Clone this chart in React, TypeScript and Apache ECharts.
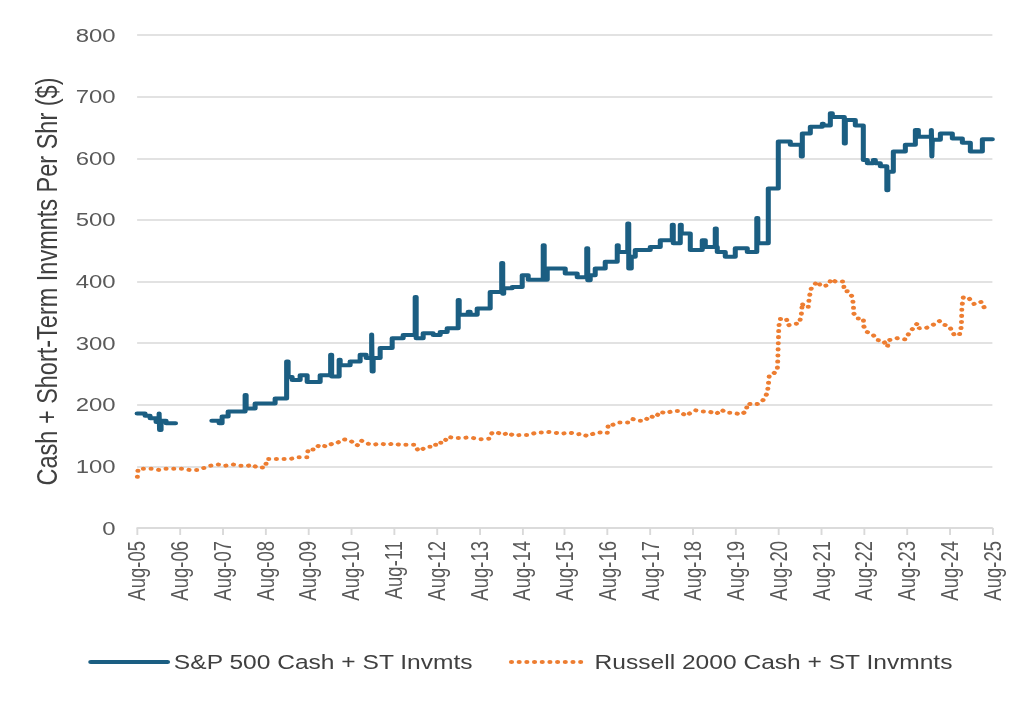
import React, { useEffect, useRef } from 'react';
import * as echarts from 'echarts';

// X axis: years elapsed since Aug-2005 (one tick per year)
const xTickLabels = [
  'Aug-05', 'Aug-06', 'Aug-07', 'Aug-08', 'Aug-09', 'Aug-10', 'Aug-11',
  'Aug-12', 'Aug-13', 'Aug-14', 'Aug-15', 'Aug-16', 'Aug-17', 'Aug-18',
  'Aug-19', 'Aug-20', 'Aug-21', 'Aug-22', 'Aug-23', 'Aug-24', 'Aug-25',
];

const seriesNames = ['S&P 500 Cash + ST Invmts', 'Russell 2000 Cash + ST Invmnts'];

// S&P 500 cash + short-term investments per share ($), step series (null = gap)
const spxT = [
  0.000, 0.187, 0.304, 0.444, 0.515, 0.526, 0.561, 0.678, 0.772, 0.900,
  1.747, 1.918, 1.988, 2.129, 2.526, 2.550, 2.760, 3.228, 3.497, 3.532,
  3.626, 3.813, 3.977, 4.281, 4.526, 4.550, 4.725, 4.749, 4.982, 5.216,
  5.357, 5.485, 5.497, 5.520, 5.684, 5.965, 6.222, 6.503, 6.526, 6.690,
  6.924, 7.088, 7.251, 7.509, 7.532, 7.743, 7.789, 7.953, 8.257, 8.526,
  8.550, 8.573, 8.772, 9.006, 9.146, 9.497, 9.520, 9.591, 10.012, 10.292,
  10.515, 10.538, 10.596, 10.713, 10.947, 11.228, 11.251, 11.474, 11.497, 11.556,
  11.649, 12.000, 12.234, 12.515, 12.538, 12.702, 12.725, 12.936, 13.216, 13.287,
  13.520, 13.544, 13.567, 13.754, 13.988, 14.269, 14.491, 14.515, 14.760, 14.994,
  15.275, 15.532, 15.556, 15.743, 16.023, 16.047, 16.211, 16.257, 16.538, 16.561,
  16.795, 16.982, 17.076, 17.216, 17.263, 17.380, 17.532, 17.556, 17.684, 17.965,
  18.199, 18.269, 18.573, 18.585, 18.596, 18.784, 19.064, 19.298, 19.485, 19.766,
  20.000,
];
const spxV: (number | null)[] = [
  186, 182, 178, 172, 186, 159, 174, 170, 170, null,
  174, 170, 181, 189, 216, 194, 202, 210, 270, 245,
  240, 248, 237, 248, 281, 246, 273, 264, 270, 281,
  276, 314, 254, 276, 292, 308, 313, 375, 308, 316,
  313, 318, 324, 370, 346, 351, 346, 356, 383, 430,
  380, 389, 391, 410, 403, 459, 403, 421, 413, 407,
  454, 402, 410, 421, 432, 459, 448, 494, 421, 440,
  451, 456, 467, 492, 462, 492, 478, 451, 467, 456,
  486, 456, 448, 440, 454, 448, 503, 462, 551, 627,
  622, 603, 640, 651, 656, 653, 673, 667, 624, 662,
  653, 597, 592, 597, 592, 587, 548, 578, 611, 622,
  646, 635, 646, 603, 630, 640, 632, 625, 611, 631,
  631,
];

// Russell 2000 cash + short-term investments per share ($)
const rutT = [
  0.007, 0.023, 0.187, 0.351, 0.538, 0.655, 0.842, 1.053, 1.240, 1.427,
  1.544, 1.708, 1.895, 2.058, 2.246, 2.409, 2.596, 2.690, 2.807, 2.994,
  3.041, 3.275, 3.439, 3.579, 3.766, 3.977, 4.000, 4.164, 4.257, 4.444,
  4.561, 4.678, 4.819, 4.982, 5.146, 5.240, 5.380, 5.520, 5.684, 5.848,
  5.988, 6.152, 6.316, 6.503, 6.573, 6.737, 6.807, 6.971, 6.994, 7.181,
  7.251, 7.439, 7.602, 7.743, 7.860, 8.023, 8.234, 8.304, 8.421, 8.561,
  8.678, 8.795, 8.982, 9.170, 9.333, 9.520, 9.614, 9.731, 9.942, 10.105,
  10.292, 10.409, 10.526, 10.667, 10.807, 10.994, 11.018, 11.111, 11.228, 11.322,
  11.485, 11.579, 11.719, 11.883, 11.977, 12.117, 12.234, 12.351, 12.538, 12.655,
  12.842, 12.982, 13.053, 13.216, 13.380, 13.544, 13.661, 13.778, 13.942, 14.129,
  14.246, 14.269, 14.409, 14.550, 14.643, 14.737, 14.760, 14.784, 14.877, 14.971,
  14.982, 14.994, 15.006, 15.041, 15.181, 15.228, 15.322, 15.485, 15.532, 15.556,
  15.579, 15.696, 15.719, 15.766, 15.906, 16.000, 16.164, 16.234, 16.327, 16.515,
  16.538, 16.632, 16.725, 16.749, 16.760, 16.842, 16.982, 16.994, 17.076, 17.216,
  17.310, 17.450, 17.544, 17.591, 17.778, 17.965, 18.058, 18.246, 18.292, 18.433,
  18.596, 18.760, 18.830, 18.994, 19.111, 19.228, 19.275, 19.287, 19.322, 19.462,
  19.579, 19.743, 19.836,
];
const rutV = [
  83, 96, 96, 96, 94, 96, 96, 96, 94, 94,
  97, 101, 103, 101, 103, 101, 101, 103, 98, 98,
  112, 112, 112, 112, 115, 115, 128, 127, 135, 132,
  137, 138, 144, 142, 134, 142, 137, 135, 137, 135,
  137, 135, 135, 135, 125, 130, 132, 132, 139, 138,
  148, 146, 146, 147, 146, 144, 145, 155, 155, 151,
  155, 150, 151, 151, 155, 155, 156, 155, 153, 155,
  152, 153, 149, 153, 155, 154, 168, 167, 171, 171,
  171, 177, 174, 174, 182, 179, 189, 186, 190, 190,
  182, 189, 191, 189, 189, 185, 192, 187, 187, 184,
  190, 202, 200, 202, 208, 219, 232, 248, 250, 257,
  273, 300, 327, 339, 340, 329, 331, 332, 346, 365,
  359, 359, 375, 389, 400, 392, 394, 404, 400, 400,
  385, 384, 375, 362, 348, 340, 340, 327, 318, 313,
  305, 304, 294, 305, 308, 306, 317, 332, 324, 324,
  329, 336, 331, 327, 313, 313, 327, 359, 375, 372,
  363, 367, 354,
];

const SCALE_X = 1.26;
const BASE_W = 1024 / SCALE_X;
const FONT = '"Liberation Sans", Arial, sans-serif';
const BLUE = '#1b5e82';
const ORANGE = '#ed7d31';

export default function App() {
  const ref = useRef<HTMLDivElement>(null);

  useEffect(() => {
    if (!ref.current) return;
    const chart = echarts.init(ref.current, null, { renderer: 'svg' });
    const spxData = spxT.map((t, i) => [t, spxV[i] === null ? '-' : spxV[i]]);
    const rutData = rutT.map((t, i) => [t, rutV[i]]);
    chart.setOption({
      animation: false,
      textStyle: { fontFamily: FONT },
      grid: { left: 108.8, right: 25.4, top: 35, bottom: 175, containLabel: false },
      legend: {
        left: 65,
        top: 647,
        itemWidth: 61,
        itemHeight: 14,
        itemGap: 28,
        data: seriesNames,
        textStyle: { fontSize: 19.5, color: '#404040', fontFamily: FONT },
        lineStyle: { width: 4 },
        itemStyle: { color: 'transparent', borderWidth: 0, opacity: 0 },
      },
      xAxis: {
        type: 'value',
        min: 0,
        max: xTickLabels.length - 1,
        interval: 1,
        axisLine: { show: true, lineStyle: { color: '#d9d9d9', width: 1.5 } },
        axisTick: { show: true, length: 7, lineStyle: { color: '#d9d9d9', width: 1.5 } },
        splitLine: { show: false },
        axisLabel: {
          rotate: 90,
          margin: 13,
          fontSize: 18.5,
          color: '#595959',
          fontFamily: FONT,
          formatter: (v: number) => xTickLabels[Math.round(v)] ?? '',
        },
      },
      yAxis: {
        type: 'value',
        min: 0,
        max: 800,
        interval: 100,
        name: 'Cash + Short-Term Invmnts Per Shr ($)',
        nameLocation: 'middle',
        nameGap: 54,
        nameRotate: 90,
        nameTextStyle: { fontSize: 23.5, color: '#404040', fontFamily: FONT },
        axisLine: { show: false },
        axisTick: { show: false },
        splitLine: { show: true, lineStyle: { color: '#d9d9d9', width: 1.5 } },
        axisLabel: { fontSize: 19, color: '#595959', margin: 17, fontFamily: FONT },
      },
      series: [
        {
          name: seriesNames[0],
          type: 'line',
          step: 'end',
          data: spxData,
          symbol: 'none',
          connectNulls: false,
          lineStyle: { color: BLUE, width: 4, join: 'round', cap: 'round' },
          itemStyle: { color: BLUE },
          z: 3,
        },
        {
          name: seriesNames[1],
          type: 'line',
          data: rutData,
          symbol: 'none',
          lineStyle: { color: ORANGE, width: 4, type: [0.1, 6], cap: 'round' },
          itemStyle: { color: ORANGE },
          z: 2,
        },
      ],
    });
    return () => chart.dispose();
  }, []);

  return (
    <div
      ref={ref}
      style={{
        position: 'fixed',
        left: 0,
        top: 0,
        width: BASE_W,
        height: 703,
        transform: `scaleX(${SCALE_X})`,
        transformOrigin: '0 0',
      }}
    />
  );
}
